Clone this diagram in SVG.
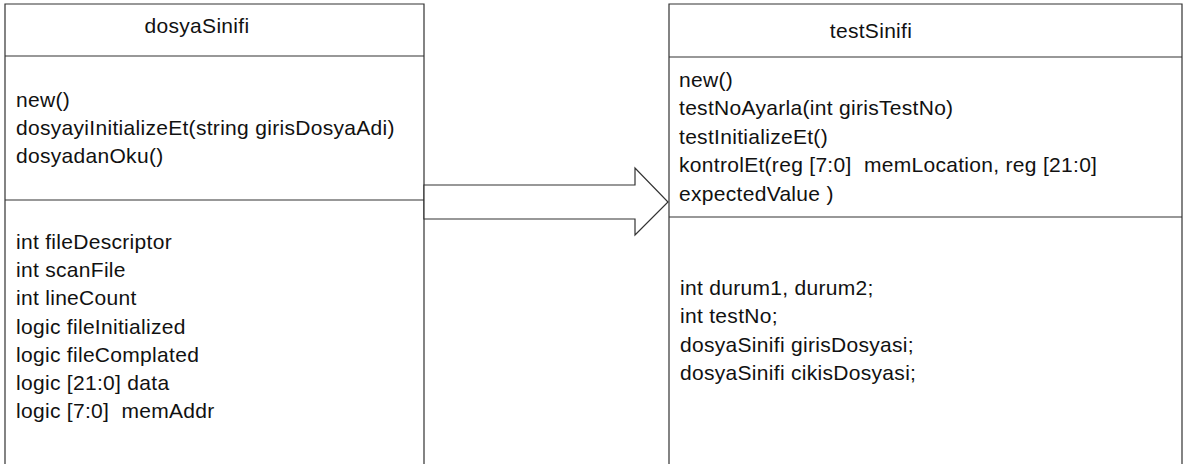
<svg xmlns="http://www.w3.org/2000/svg" width="1184" height="464" viewBox="0 0 1184 464">
  <style>
    .box { fill: #ffffff; stroke: #333333; stroke-width: 1.2; }
    .sep { stroke: #333333; stroke-width: 1.2; }
    .t { font-family: "Liberation Sans", Arial, sans-serif; font-size: 21px; letter-spacing: 0.3px; fill: #111111; white-space: pre; }
    .title { text-anchor: middle; }
  </style>
  <rect width="1184" height="464" fill="#ffffff"/>

  <!-- class: dosyaSinifi -->
  <g id="dosyaSinifi">
    <path class="box" d="M5,470 V4 H424 V470"/>
    <line class="sep" x1="5" y1="56" x2="424" y2="56"/>
    <line class="sep" x1="5" y1="200" x2="424" y2="200"/>
    <text class="t title" x="197" y="33">dosyaSinifi</text>
    <text class="t" x="16" y="107">new()</text>
    <text class="t" x="16" y="135">dosyayiInitializeEt(string girisDosyaAdi)</text>
    <text class="t" x="16" y="163">dosyadanOku()</text>
    <text class="t" x="16" y="249">int fileDescriptor</text>
    <text class="t" x="16" y="277">int scanFile</text>
    <text class="t" x="16" y="305">int lineCount</text>
    <text class="t" x="16" y="334">logic fileInitialized</text>
    <text class="t" x="16" y="362">logic fileComplated</text>
    <text class="t" x="16" y="390">logic [21:0] data</text>
    <text class="t" x="16" y="418">logic [7:0]  memAddr</text>
  </g>

  <!-- class: testSinifi -->
  <g id="testSinifi">
    <path class="box" d="M669,470 V4 H1182 V470"/>
    <line class="sep" x1="669" y1="57" x2="1182" y2="57"/>
    <line class="sep" x1="669" y1="217" x2="1182" y2="217"/>
    <text class="t title" x="871" y="38">testSinifi</text>
    <text class="t" x="679" y="87">new()</text>
    <text class="t" x="679" y="115">testNoAyarla(int girisTestNo)</text>
    <text class="t" x="679" y="144">testInitializeEt()</text>
    <text class="t" x="679" y="172">kontrolEt(reg [7:0]  memLocation, reg [21:0]</text>
    <text class="t" x="679" y="201">expectedValue )</text>
    <text class="t" x="680" y="295">int durum1, durum2;</text>
    <text class="t" x="680" y="323">int testNo;</text>
    <text class="t" x="680" y="352">dosyaSinifi girisDosyasi;</text>
    <text class="t" x="680" y="380">dosyaSinifi cikisDosyasi;</text>
  </g>

  <!-- block arrow between the classes -->
  <g id="connectors">
    <path class="box" d="M424,185 H635 V168 L668,202 L635,235 V219 H424 Z"/>
  </g>
</svg>
